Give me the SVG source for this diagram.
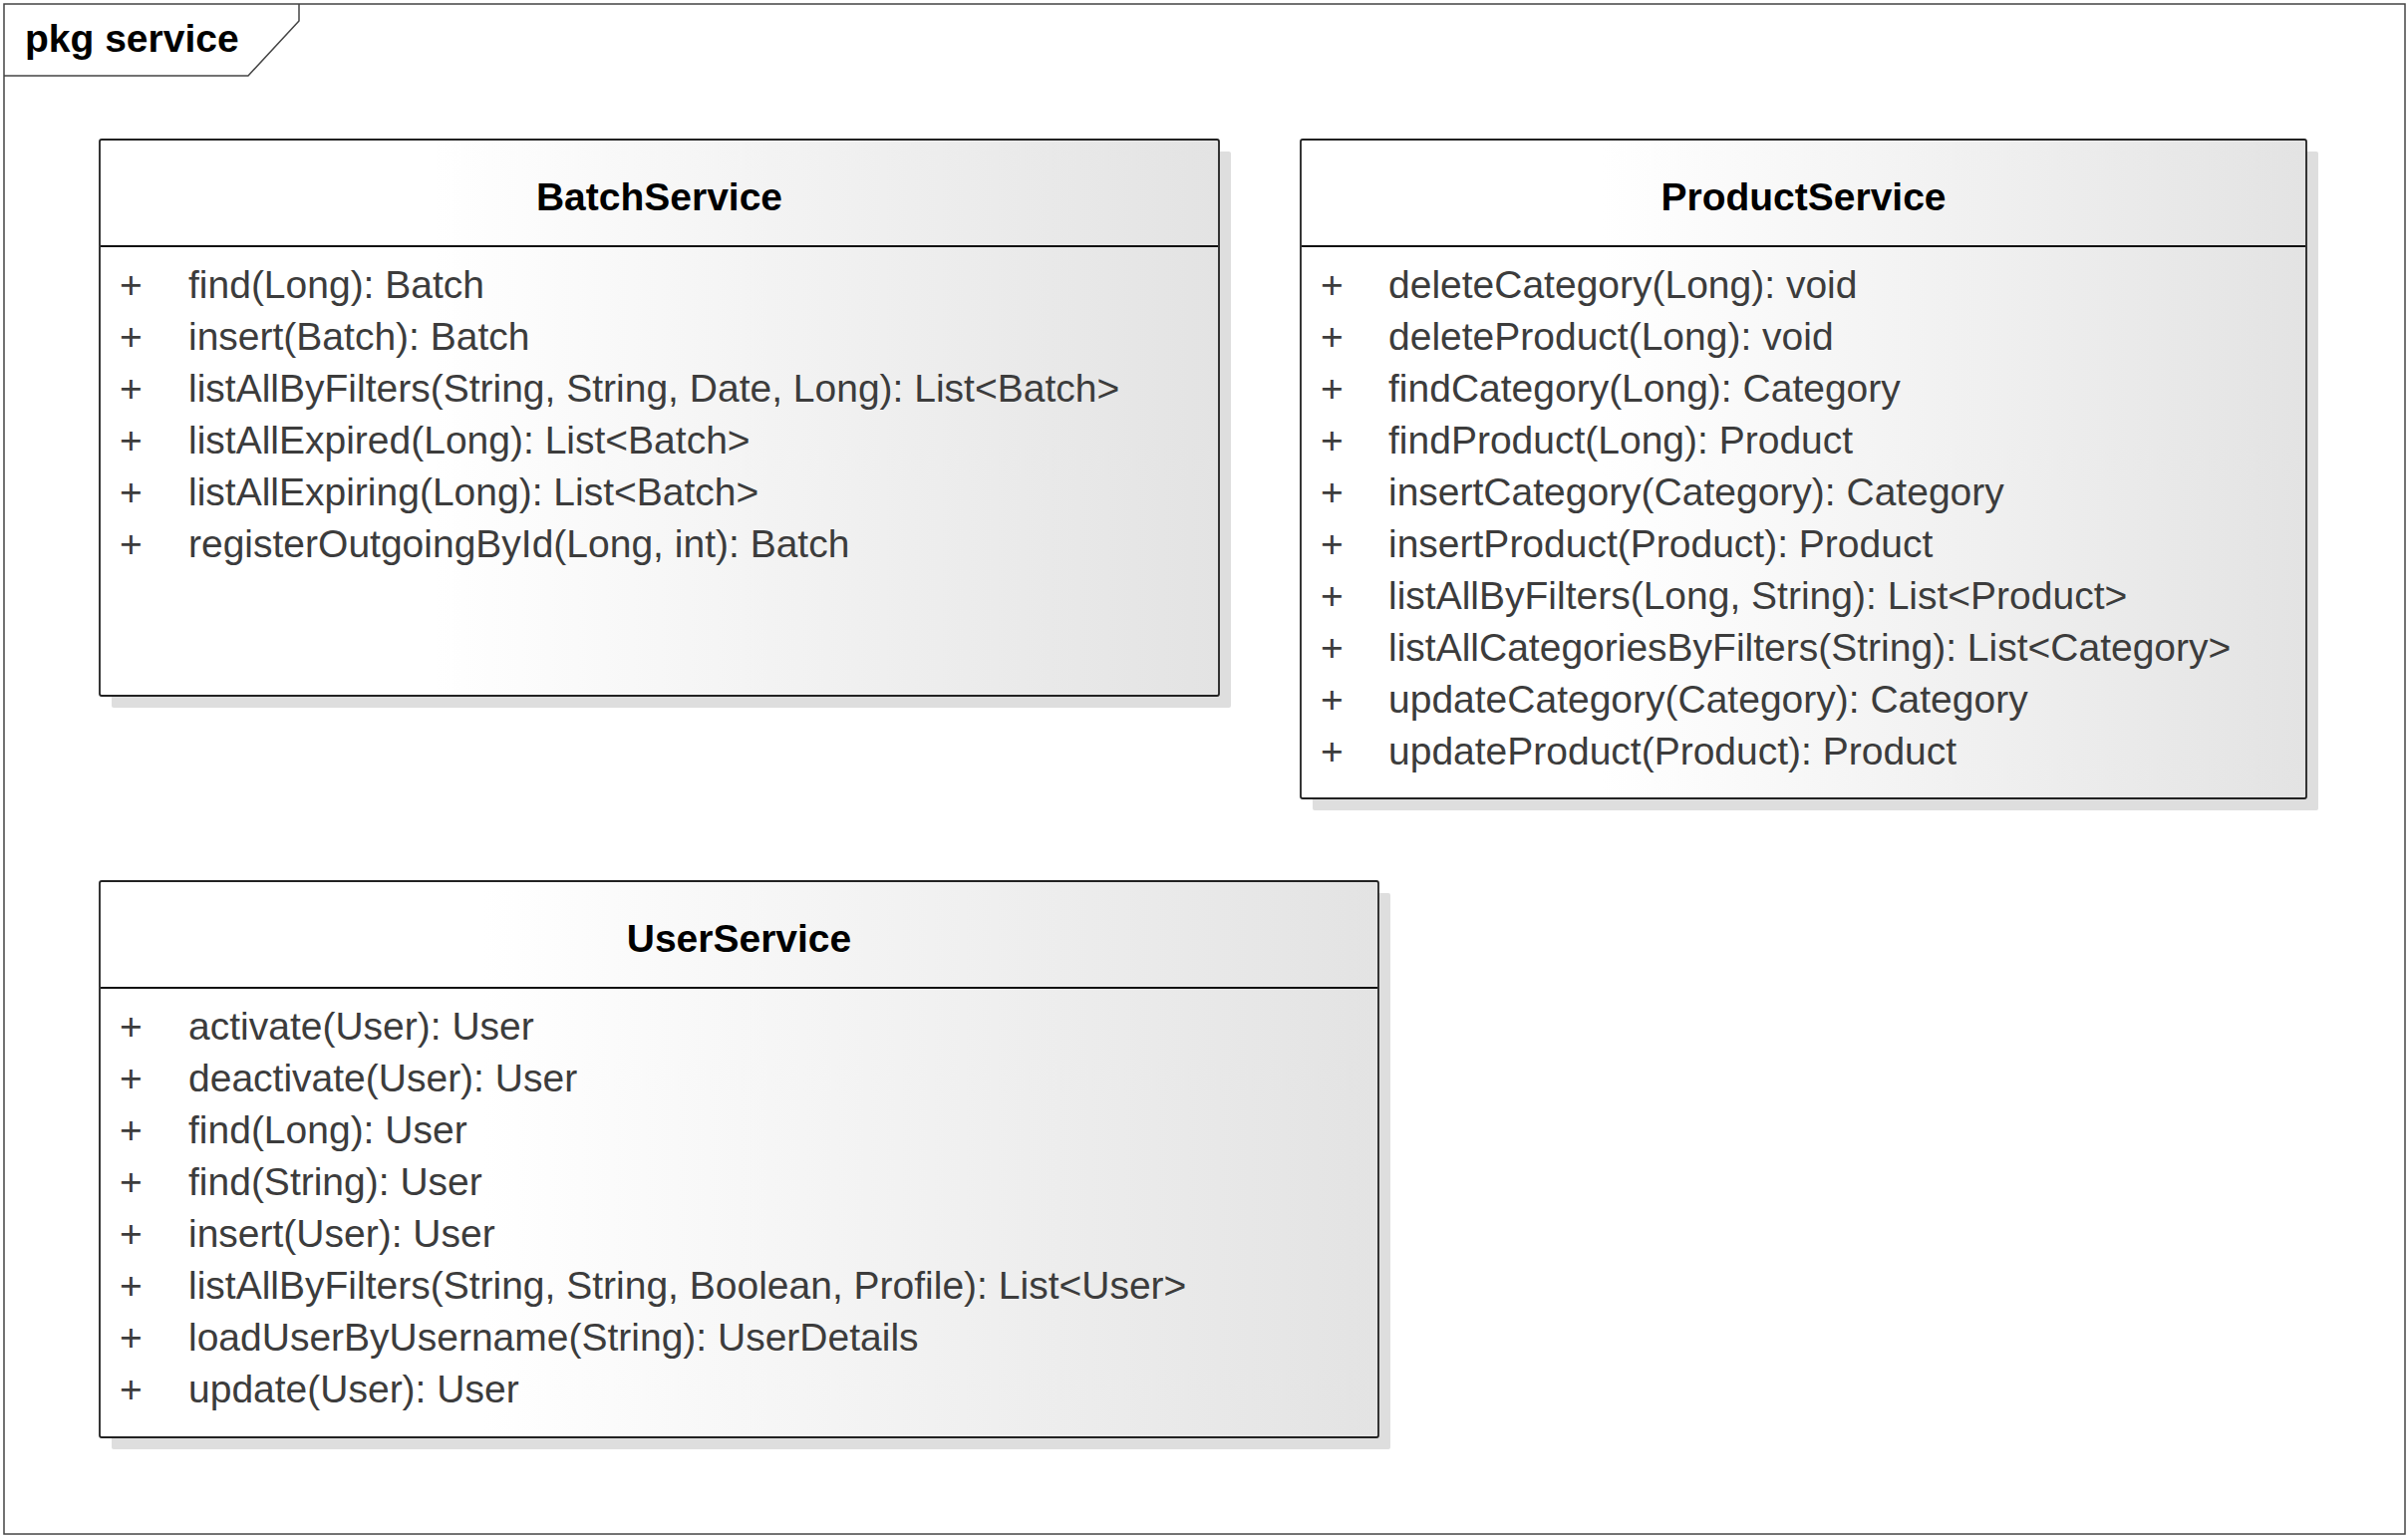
<svg xmlns="http://www.w3.org/2000/svg" width="2416" height="1544" viewBox="0 0 2416 1544">
<defs>
<linearGradient id="fill" x1="0" y1="0" x2="1" y2="0">
<stop offset="0" stop-color="#ffffff"/>
<stop offset="0.3" stop-color="#ffffff"/>
<stop offset="1" stop-color="#e3e3e3"/>
</linearGradient>
<style>
.frame{fill:#ffffff;stroke:#444444;stroke-width:1.5}
.shadow{fill:#dedede;stroke:none}
.box{fill:url(#fill);stroke:#222222;stroke-width:1.8}
.sep{stroke:#111111;stroke-width:2}
.pkg{font-family:"Liberation Sans",Arial,sans-serif;font-weight:bold;font-size:39px;fill:#000000}
.title{font-family:"Liberation Sans",Arial,sans-serif;font-weight:bold;font-size:39px;fill:#000000;text-anchor:middle}
.op{font-family:"Liberation Sans",Arial,sans-serif;font-size:39px;fill:#3c3c3c}
</style>
</defs>
<rect width="2416" height="1544" fill="#ffffff"/>
<g id="package">
<rect class="frame" x="4" y="4" width="2409" height="1535"/>
<path d="M4,76 H249 L300,21 V4" fill="none" stroke="#444444" stroke-width="1.5"/>
<text class="pkg" x="25" y="52">pkg service</text>
</g>
<g id="BatchService">
<rect class="shadow" x="112" y="152" width="1123" height="558" rx="2"/>
<rect class="box" x="100" y="140" width="1123" height="558" rx="2"/>
<line class="sep" x1="101" y1="247" x2="1222" y2="247"/>
<text class="title" x="661.5" y="211">BatchService</text>
<g class="op">
<text x="120" y="299">+</text><text x="189" y="299">find(Long): Batch</text>
<text x="120" y="351">+</text><text x="189" y="351">insert(Batch): Batch</text>
<text x="120" y="403">+</text><text x="189" y="403">listAllByFilters(String, String, Date, Long): List&lt;Batch&gt;</text>
<text x="120" y="455">+</text><text x="189" y="455">listAllExpired(Long): List&lt;Batch&gt;</text>
<text x="120" y="507">+</text><text x="189" y="507">listAllExpiring(Long): List&lt;Batch&gt;</text>
<text x="120" y="559">+</text><text x="189" y="559">registerOutgoingById(Long, int): Batch</text>
</g>
</g>
<g id="ProductService">
<rect class="shadow" x="1317" y="152" width="1009" height="661" rx="2"/>
<rect class="box" x="1305" y="140" width="1009" height="661" rx="2"/>
<line class="sep" x1="1306" y1="247" x2="2313" y2="247"/>
<text class="title" x="1809.5" y="211">ProductService</text>
<g class="op">
<text x="1325" y="299">+</text><text x="1393" y="299">deleteCategory(Long): void</text>
<text x="1325" y="351">+</text><text x="1393" y="351">deleteProduct(Long): void</text>
<text x="1325" y="403">+</text><text x="1393" y="403">findCategory(Long): Category</text>
<text x="1325" y="455">+</text><text x="1393" y="455">findProduct(Long): Product</text>
<text x="1325" y="507">+</text><text x="1393" y="507">insertCategory(Category): Category</text>
<text x="1325" y="559">+</text><text x="1393" y="559">insertProduct(Product): Product</text>
<text x="1325" y="611">+</text><text x="1393" y="611">listAllByFilters(Long, String): List&lt;Product&gt;</text>
<text x="1325" y="663">+</text><text x="1393" y="663">listAllCategoriesByFilters(String): List&lt;Category&gt;</text>
<text x="1325" y="715">+</text><text x="1393" y="715">updateCategory(Category): Category</text>
<text x="1325" y="767">+</text><text x="1393" y="767">updateProduct(Product): Product</text>
</g>
</g>
<g id="UserService">
<rect class="shadow" x="112" y="896" width="1283" height="558" rx="2"/>
<rect class="box" x="100" y="884" width="1283" height="558" rx="2"/>
<line class="sep" x1="101" y1="991" x2="1382" y2="991"/>
<text class="title" x="741.5" y="955">UserService</text>
<g class="op">
<text x="120" y="1043">+</text><text x="189" y="1043">activate(User): User</text>
<text x="120" y="1095">+</text><text x="189" y="1095">deactivate(User): User</text>
<text x="120" y="1147">+</text><text x="189" y="1147">find(Long): User</text>
<text x="120" y="1199">+</text><text x="189" y="1199">find(String): User</text>
<text x="120" y="1251">+</text><text x="189" y="1251">insert(User): User</text>
<text x="120" y="1303">+</text><text x="189" y="1303">listAllByFilters(String, String, Boolean, Profile): List&lt;User&gt;</text>
<text x="120" y="1355">+</text><text x="189" y="1355">loadUserByUsername(String): UserDetails</text>
<text x="120" y="1407">+</text><text x="189" y="1407">update(User): User</text>
</g>
</g>
<g id="connectors"/>
</svg>
